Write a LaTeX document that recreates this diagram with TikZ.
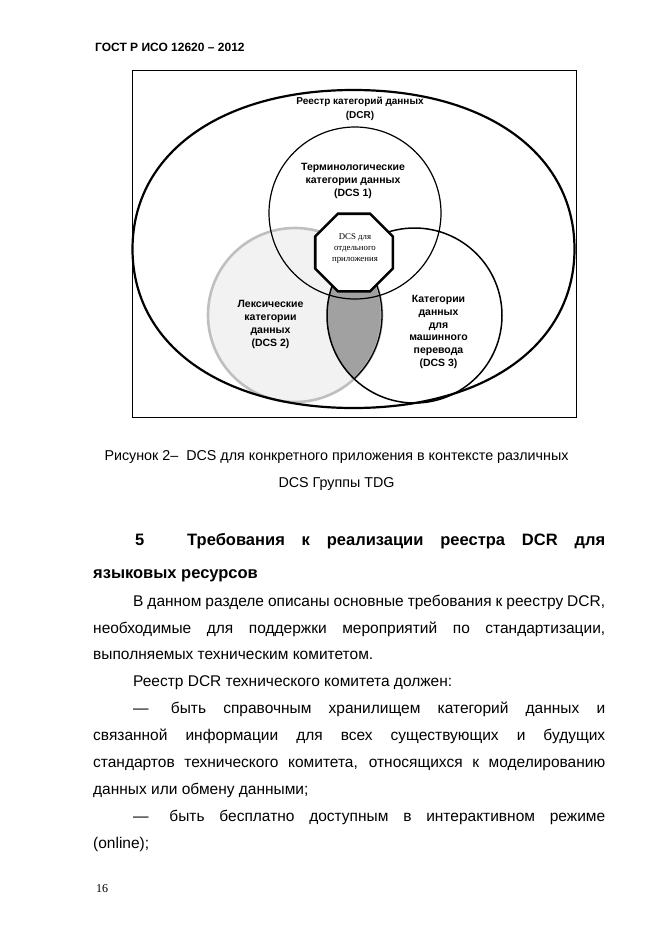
\documentclass[tikz,border=0pt]{standalone}
\usepackage{fontspec}
\setmainfont{Liberation Sans}
\newfontfamily\pageserif{Liberation Serif}
\usetikzlibrary{shapes.geometric}

% one justified line of a given width
\newcommand{\jline}[2]{\makebox[#1][s]{#2}}

\begin{document}
\begin{tikzpicture}[x=1pt, y=-1pt,
    vennlabel/.style={align=center, inner sep=0pt, font=\bfseries\fontsize{10.5pt}{12.8pt}\selectfont},
    bodyline/.style={anchor=base west, inner sep=0pt, font=\fontsize{15.5pt}{27pt}\selectfont},
    headline/.style={anchor=base west, inner sep=0pt, font=\bfseries\fontsize{16.5pt}{20pt}\selectfont},
    capline/.style={anchor=base, inner sep=0pt, font=\fontsize{14.3pt}{18pt}\selectfont}]
    \useasboundingbox[fill=white] (0,0) rectangle (661,935);

    % =========================================================
    % PAGE HEADER
    % =========================================================
    \node[anchor=base west, inner sep=0pt, font=\bfseries\fontsize{12pt}{14pt}\selectfont] (gost) at (95,51) {ГОСТ Р ИСО 12620 – 2012};

    % =========================================================
    % FIGURE 2
    % =========================================================
    % Frame
    \draw[line width=0.9pt] (132,70) rectangle (576,417);

    % DCS 2 (shaded) and lens DCS 2 / DCS 3
    \fill[gray!10] (295,315) circle[radius=87pt];
    \begin{scope}
        \clip (295,315) circle[radius=87pt];
        \fill[black!37] (414.5,315.5) circle[radius=87.5pt];
    \end{scope}
    \draw[gray!50, line width=2.6pt] (295,315) circle[radius=87pt];
    \begin{scope}
        \clip (414.5,315.5) circle[radius=87.5pt];
        \draw[line width=1.3pt] (295,315) circle[radius=87pt];
    \end{scope}

    % DCS 1 and DCS 3
    \draw[line width=1.2pt] (355,213) circle[radius=86pt];
    \draw[line width=1.5pt] (414.5,315.5) circle[radius=87.5pt];

    % DCR (a slightly squarish ellipse)
    \draw[line width=2.2pt] (353.5,90) .. controls (486.1,90) and (574.5,153.6) .. (574.5,249)
        .. controls (574.5,344.4) and (486.1,408) .. (353.5,408)
        .. controls (220.9,408) and (132.5,344.4) .. (132.5,249)
        .. controls (132.5,153.6) and (220.9,90) .. (353.5,90) -- cycle;

    % Application DCS
    \node[regular polygon, regular polygon sides=8, minimum size=84pt, inner sep=0pt,
          draw, line width=2.6pt, fill=white] (octa) at (354,252.5) {};

    % Labels
    \node[vennlabel, font=\bfseries\fontsize{10pt}{14pt}\selectfont] (dcr) at (360,108.5) {Реестр категорий данных\\(DCR)};
    \node[vennlabel] (dcs1) at (353,181) {Терминологические\\категории данных\\(DCS 1)};
    \node[align=center, inner sep=0pt, font=\pageserif\fontsize{8.8pt}{11pt}\selectfont] (app) at (355,249) {DCS для\\отдельного\\приложения};
    \node[vennlabel, font=\bfseries\fontsize{10.5pt}{13pt}\selectfont] (dcs2) at (270.5,324) {Лексические\\категории\\данных\\(DCS 2)};
    \node[vennlabel, font=\bfseries\fontsize{10.5pt}{12.9pt}\selectfont] (dcs3) at (438.5,332) {Категории\\данных\\для\\машинного\\перевода\\(DCS 3)};

    % Caption
    \node[capline] (cap1) at (336.5,460) {Рисунок 2–\hspace{8pt}DCS для конкретного приложения в контексте различных};
    \node[capline] (cap2) at (336.5,487) {DCS Группы TDG};

    % =========================================================
    % SECTION 5
    % =========================================================
    \node[headline] (sec1) at (135,545) {\jline{470pt}{5\hspace{26pt} Требования к реализации реестра DCR для}};
    \node[headline] (sec2) at (93,578) {языковых ресурсов};

    \node[bodyline] (p1a) at (133,606) {\jline{472pt}{В данном разделе описаны основные требования к реестру DCR,}};
    \node[bodyline] (p1b) at (93,633) {\jline{512pt}{необходимые для поддержки мероприятий по стандартизации,}};
    \node[bodyline] (p1c) at (93,659.5) {выполняемых техническим комитетом.};
    \node[bodyline] (p2) at (133,686) {Реестр DCR технического комитета должен:};
    \node[bodyline] (p3a) at (133,713) {\jline{472pt}{—\hspace{5pt} быть справочным хранилищем категорий данных и}};
    \node[bodyline] (p3b) at (93,740) {\jline{512pt}{связанной информации для всех существующих и будущих}};
    \node[bodyline] (p3c) at (93,767) {\jline{512pt}{стандартов технического комитета, относящихся к моделированию}};
    \node[bodyline] (p3d) at (93,794) {данных или обмену данными;};
    \node[bodyline] (p4a) at (133,821) {\jline{472pt}{—\hspace{6pt} быть бесплатно доступным в интерактивном режиме}};
    \node[bodyline] (p4b) at (93,848) {(online);};

    % Page number
    \node[anchor=base west, inner sep=0pt, font=\pageserif\fontsize{12pt}{14pt}\selectfont] (pnum) at (96,892) {16};
\end{tikzpicture}
\end{document}
